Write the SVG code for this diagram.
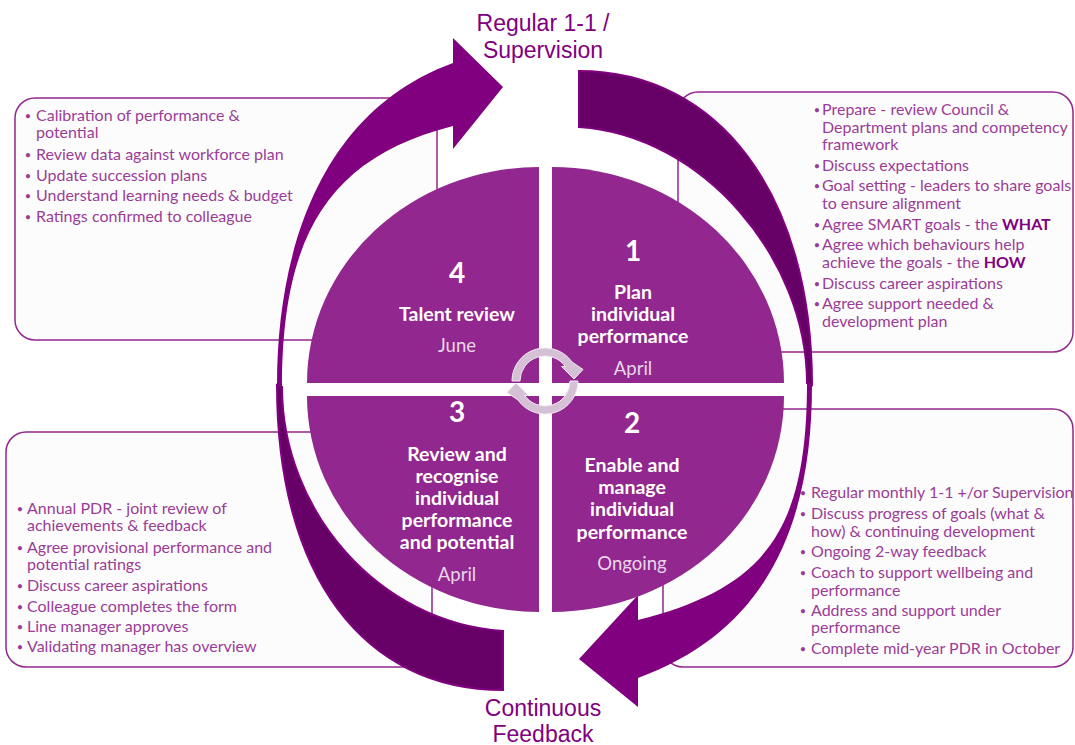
<svg xmlns="http://www.w3.org/2000/svg" width="1075" height="745" viewBox="0 0 1075 745">
<style>
.box{fill:#FDFCFD;stroke:#92278F;stroke-width:1.5}
.bt{font-family:Lato,"Open Sans",sans-serif;font-size:16px;fill:#9A3D97}
.bl{font-family:Lato,sans-serif;font-size:11px;fill:#9A3D97;text-anchor:middle}
.bd{font-weight:bold;fill:#800080}
.q{fill:#92278F}
.qt{font-family:Lato,"Open Sans",sans-serif;font-weight:bold;fill:#FFFFFF;font-size:19.5px;text-anchor:middle}
.qn{font-size:28px}
.qm{font-weight:normal;fill:#E8D6E8;font-size:18.5px}
.head{fill:#800080}
.tail{fill:#660066;stroke:#800080;stroke-width:2}
.ttl{font-family:"Liberation Sans",Arial,sans-serif;font-size:23px;fill:#800080;text-anchor:middle}
.ring{fill:#D6C0D6;stroke:#F2EAF2;stroke-width:1}
</style>
<rect width="1075" height="745" fill="#FFFFFF"/>
<g id="box-talent">
<rect class="box" x="15" y="98" width="422" height="242" rx="20"/>
<text class="bl" x="28" y="120">•</text><text class="bt" x="36" y="121">Calibration of performance &amp;</text>
<text class="bt" x="36" y="138">potential</text>
<text class="bl" x="28" y="159">•</text><text class="bt" x="36" y="160">Review data against workforce plan</text>
<text class="bl" x="28" y="180">•</text><text class="bt" x="36" y="181">Update succession plans</text>
<text class="bl" x="28" y="200">•</text><text class="bt" x="36" y="201">Understand learning needs &amp; budget</text>
<text class="bl" x="28" y="221">•</text><text class="bt" x="36" y="222">Ratings confirmed to colleague</text>
</g>
<g id="box-plan">
<rect class="box" x="678" y="92" width="395" height="260" rx="20"/>
<text class="bl" x="817" y="114">•</text><text class="bt" x="822" y="115">Prepare - review Council &amp;</text>
<text class="bt" x="822" y="133">Department plans and competency</text>
<text class="bt" x="822" y="150">framework</text>
<text class="bl" x="817" y="170">•</text><text class="bt" x="822" y="171">Discuss expectations</text>
<text class="bl" x="817" y="190">•</text><text class="bt" x="822" y="191">Goal setting - leaders to share goals</text>
<text class="bt" x="822" y="209">to ensure alignment</text>
<text class="bl" x="817" y="229">•</text><text class="bt" x="822" y="230">Agree SMART goals - the <tspan class="bd">WHAT</tspan></text>
<text class="bl" x="817" y="249">•</text><text class="bt" x="822" y="250">Agree which behaviours help</text>
<text class="bt" x="822" y="268">achieve the goals - the <tspan class="bd">HOW</tspan></text>
<text class="bl" x="817" y="288">•</text><text class="bt" x="822" y="289">Discuss career aspirations</text>
<text class="bl" x="817" y="308">•</text><text class="bt" x="822" y="309">Agree support needed &amp;</text>
<text class="bt" x="822" y="327">development plan</text>
</g>
<g id="box-review">
<rect class="box" x="6" y="432" width="426" height="235" rx="20"/>
<text class="bl" x="20" y="513">•</text><text class="bt" x="27" y="514">Annual PDR - joint review of</text>
<text class="bt" x="27" y="531">achievements &amp; feedback</text>
<text class="bl" x="20" y="552">•</text><text class="bt" x="27" y="553">Agree provisional performance and</text>
<text class="bt" x="27" y="570">potential ratings</text>
<text class="bl" x="20" y="590">•</text><text class="bt" x="27" y="591">Discuss career aspirations</text>
<text class="bl" x="20" y="611">•</text><text class="bt" x="27" y="612">Colleague completes the form</text>
<text class="bl" x="20" y="631">•</text><text class="bt" x="27" y="632">Line manager approves</text>
<text class="bl" x="20" y="651">•</text><text class="bt" x="27" y="652">Validating manager has overview</text>
</g>
<g id="box-enable">
<rect class="box" x="663" y="409" width="410" height="258" rx="20"/>
<text class="bl" x="803" y="497">•</text><text class="bt" x="811" y="498">Regular monthly 1-1 +/or Supervision</text>
<text class="bl" x="803" y="518">•</text><text class="bt" x="811" y="519">Discuss progress of goals (what &amp;</text>
<text class="bt" x="811" y="537">how) &amp; continuing development</text>
<text class="bl" x="803" y="556">•</text><text class="bt" x="811" y="557">Ongoing 2-way feedback</text>
<text class="bl" x="803" y="577">•</text><text class="bt" x="811" y="578">Coach to support wellbeing and</text>
<text class="bt" x="811" y="596">performance</text>
<text class="bl" x="803" y="615">•</text><text class="bt" x="811" y="616">Address and support under</text>
<text class="bt" x="811" y="633">performance</text>
<text class="bl" x="803" y="653">•</text><text class="bt" x="811" y="654">Complete mid-year PDR in October</text>
</g>
<g id="connectors">
<path class="tail" d="M 277 385 C 277 575 363 690 503 690 L 503 631 C 379 623 282 511 282 387 Z"/>
<path class="head" d="M 277 385 C 277 250 321 111 453 63 L 453 38 L 503 87 L 453 149 L 453 126 C 327 158 282 237 282 387 Z"/>
<path class="tail" d="M 812 385 C 812 195 719 71 579 71 L 579 127 C 703 135 807 259 807 383 Z"/>
<path class="head" d="M 812 385 C 812 520 770 630 638 678 L 638 707 L 579 659 L 638 595 L 638 620 C 764 588 807 533 807 383 Z"/>
</g>
<g id="q4">
<path class="q" d="M 539 383 L 307 383 A 232 216 0 0 1 539 167 Z"/>
<text class="qt qn" x="457" y="283">4</text>
<text class="qt" x="457" y="321">Talent review</text>
<text class="qt qm" x="457" y="352">June</text>
</g>
<g id="q1">
<path class="q" d="M 552 383 L 552 167 A 232 216 0 0 1 784 383 Z"/>
<text class="qt qn" x="633" y="261">1</text>
<text class="qt" x="633" y="299">Plan</text>
<text class="qt" x="633" y="321">individual</text>
<text class="qt" x="633" y="343">performance</text>
<text class="qt qm" x="633" y="375">April</text>
</g>
<g id="q2">
<path class="q" d="M 552 396 L 784 396 A 232 216 0 0 1 552 612 Z"/>
<text class="qt qn" x="632" y="433">2</text>
<text class="qt" x="632" y="472">Enable and</text>
<text class="qt" x="632" y="494">manage</text>
<text class="qt" x="632" y="516">individual</text>
<text class="qt" x="632" y="539">performance</text>
<text class="qt qm" x="632" y="570">Ongoing</text>
</g>
<g id="q3">
<path class="q" d="M 539 396 L 539 612 A 232 216 0 0 1 307 396 Z"/>
<text class="qt qn" x="457" y="422">3</text>
<text class="qt" x="457" y="461">Review and</text>
<text class="qt" x="457" y="483">recognise</text>
<text class="qt" x="457" y="505">individual</text>
<text class="qt" x="457" y="527">performance</text>
<text class="qt" x="457" y="549">and potential</text>
<text class="qt qm" x="457" y="581">April</text>
</g>
<g id="cycle">
<path class="ring" d="M 512 381 A 33 33 0 0 1 572 362 L 583 369.5 L 574 379 L 561.5 366.5 L 565.5 366.7 A 25 25 0 0 0 520 381 Z"/>
<path class="ring" d="M 578 381 A 33 33 0 0 1 518 400 L 507 392.5 L 516 383 L 528.5 395.5 L 524.5 395.3 A 25 25 0 0 0 570 381 Z"/>
</g>
<g id="label-top">
<text class="ttl" x="543" y="31">Regular 1-1 /</text>
<text class="ttl" x="543" y="58">Supervision</text>
</g>
<g id="label-bottom">
<text class="ttl" x="543" y="716">Continuous</text>
<text class="ttl" x="543" y="742">Feedback</text>
</g>
</svg>
